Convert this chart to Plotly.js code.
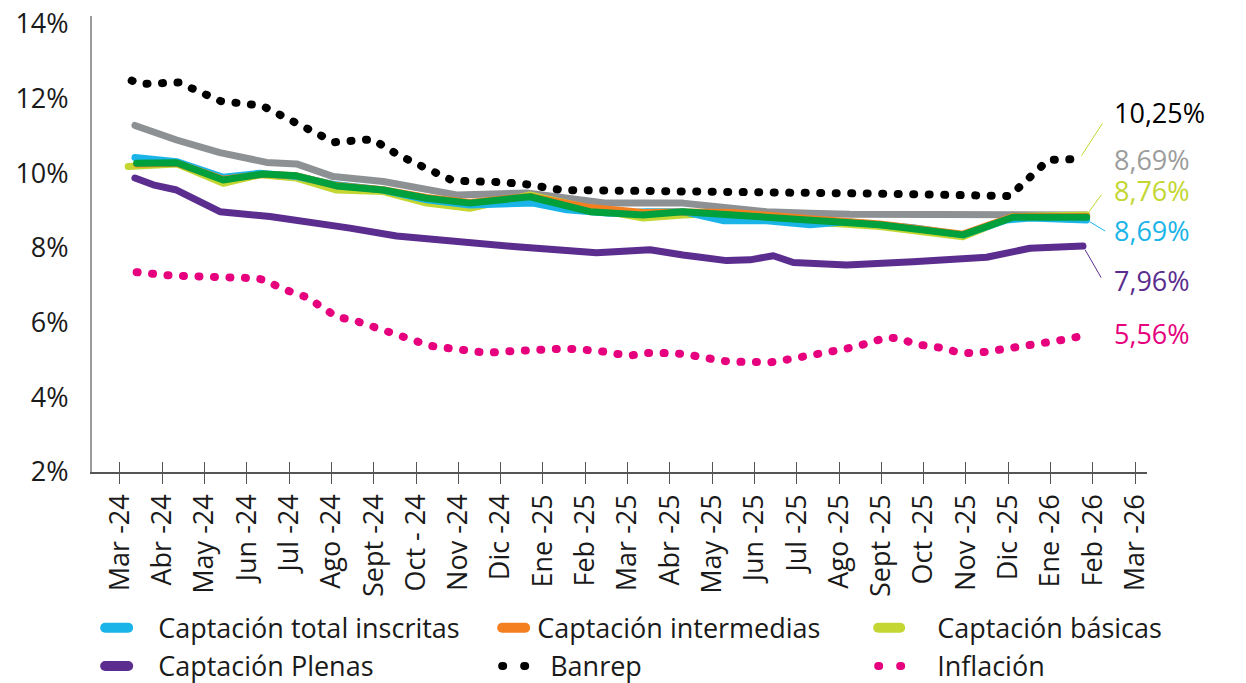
<!DOCTYPE html>
<html>
<head>
<meta charset="utf-8">
<script src="https://cdn.plot.ly/plotly-3.0.1.min.js"></script>
<style>
  html, body { margin: 0; padding: 0; background: #fff; }
  #chart { width: 1246px; height: 683px; }
</style>
</head>
<body>
<div id="chart"></div>
<script>
// ---------- DATA ----------
// x = months since Mar-24 (0 = Mar -24 tick), y = rate in %
const monthLabels = ['Mar -24','Abr -24','May -24','Jun -24','Jul -24','Ago -24','Sept -24','Oct - 24','Nov -24','Dic -24','Ene -25','Feb -25','Mar -25','Abr -25','May -25','Jun -25','Jul -25','Ago -25','Sept -25','Oct -25','Nov -25','Dic -25','Ene -26','Feb -26','Mar -26'];
const yTickVals = [2, 4, 6, 8, 10, 12, 14];
const yTickText = ['2%', '4%', '6%', '8%', '10%', '12%', '14%'];

const grayX = [0.355,1.340,2.364,3.468,4.177,5.043,6.225,7.251,7.960,9.615,10.402,11.506,13.310,14.106,15.288,16.312,17.258,22.853];
const grayY = [11.28,10.89,10.55,10.29,10.25,9.91,9.78,9.55,9.42,9.47,9.37,9.20,9.20,9.09,8.97,8.93,8.90,8.88];

const inscritasX = [0.355,1.340,2.442,3.310,4.177,5.123,6.225,7.251,8.274,9.764,10.560,11.584,12.451,13.310,14.255,15.288,16.312,17.180,18.747,19.929,20.962,21.513,22.853];
const inscritasY = [10.42,10.31,9.89,10.00,9.91,9.69,9.55,9.29,9.15,9.20,9.02,8.93,8.97,8.97,8.73,8.73,8.62,8.70,8.54,8.35,8.75,8.80,8.75];

const basicasX = [0.196,1.340,2.442,3.310,4.177,5.123,6.225,7.251,8.274,9.693,11.111,12.371,13.310,14.492,15.674,16.312,17.967,19.929,21.111,22.853];
const basicasY = [10.18,10.25,9.73,9.96,9.87,9.55,9.51,9.20,9.06,9.42,9.06,8.80,8.88,8.93,8.75,8.70,8.57,8.30,8.84,8.88];

const verdeX = [0.395,1.340,2.442,3.388,4.177,5.123,6.225,7.251,8.274,9.693,11.111,12.364,13.310,14.492,16.312,17.967,19.929,21.111,22.853];
const verdeY = [10.27,10.28,9.82,9.98,9.93,9.66,9.55,9.33,9.20,9.37,8.97,8.88,8.97,8.88,8.75,8.62,8.35,8.82,8.82];

const intermediasX = [0.395,1.340,2.442,3.388,4.177,5.123,6.225,7.251,8.274,9.693,11.111,12.364,13.310,14.492,16.312,17.967,19.929,21.111,22.853];
const intermediasY = [10.25,10.27,9.84,9.97,9.93,9.67,9.56,9.35,9.22,9.38,9.08,8.95,8.96,8.95,8.78,8.64,8.37,8.84,8.84];

const plenasX = [0.355,0.787,1.340,2.364,3.546,4.492,5.437,6.541,7.643,8.274,9.378,11.269,12.530,13.310,14.343,14.894,15.445,15.917,16.390,17.180,18.747,20.489,21.513,22.766];
const plenasY = [9.87,9.69,9.55,8.97,8.84,8.70,8.53,8.32,8.19,8.13,8.03,7.87,7.95,7.81,7.66,7.68,7.79,7.61,7.57,7.54,7.63,7.75,7.99,8.05];

const banrepX = [0.277,0.489,1.388,1.719,2.050,2.385,3.357,3.688,4.026,4.381,4.721,5.066,5.965,6.312,6.612,6.927,7.251,7.558,7.872,9.024,9.378,9.733,10.087,10.449,18.203,21.040,21.340,21.630,21.950,22.680];
const banrepY = [12.48,12.39,12.43,12.25,12.09,11.93,11.81,11.61,11.41,11.21,11.00,10.83,10.91,10.66,10.47,10.30,10.13,9.96,9.80,9.76,9.75,9.69,9.61,9.55,9.45,9.39,9.71,10.04,10.36,10.38];

const inflacionX = [0.395,0.733,1.104,1.466,1.828,2.192,2.513,2.861,3.199,3.468,3.735,4.073,4.421,4.775,5.137,5.539,5.965,6.305,6.643,6.998,7.329,7.667,8.007,8.345,8.683,9.024,9.378,9.733,10.087,10.449,10.804,11.166,11.482,11.766,12.087,12.388,12.759,13.144,13.539,13.917,14.279,14.657,15.035,15.390,15.721,16.076,16.423,16.768,17.123,17.470,17.818,18.125,18.440,18.778,19.125,19.449,19.787,20.135,20.489,20.868,21.236,21.591,21.946,22.300,22.648];
const inflacionY = [7.35,7.30,7.27,7.25,7.23,7.23,7.23,7.22,7.19,7.13,6.96,6.81,6.68,6.41,6.15,6.06,5.91,5.78,5.64,5.51,5.38,5.33,5.28,5.23,5.19,5.22,5.25,5.27,5.29,5.30,5.29,5.27,5.22,5.16,5.12,5.19,5.20,5.18,5.12,5.02,4.97,4.95,4.95,4.94,5.00,5.06,5.13,5.21,5.29,5.38,5.49,5.60,5.58,5.43,5.37,5.32,5.21,5.18,5.22,5.29,5.33,5.37,5.45,5.54,5.62];

const endLabels = ['10,25%', '8,69%', '8,76%', '8,69%', '7,96%', '5,56%'];

// ---------- STYLE ----------
const FONT = 'Open Sans, Liberation Sans, sans-serif';
const C = {
  gray: '#8e9193', cyan: '#1ab4e8', yg: '#c3d631', green: '#00a03c',
  orange: '#f47f20', purple: '#5b2d8e', black: '#000000', magenta: '#e6007e'
};
const LW = 7;
const DOT = '1px,14.5px';

function lineTrace(x, y, name, color, opts) {
  return Object.assign({
    type: 'scatter', mode: 'lines', x: x, y: y, name: name,
    line: { color: color, width: LW, shape: 'linear' },
    hoverinfo: 'skip'
  }, opts || {});
}

const traces = [
  lineTrace(grayX, grayY, 'Captación total', C.gray, { showlegend: false }),
  lineTrace(basicasX, basicasY, 'Captación básicas', C.yg, { legendrank: 3 }),
  lineTrace(inscritasX, inscritasY, 'Captación total inscritas', C.cyan, { legendrank: 1 }),
  lineTrace(intermediasX, intermediasY, 'Captación intermedias', C.orange, { legendrank: 2 }),
  lineTrace(verdeX, verdeY, 'Captación', C.green, { showlegend: false }),
  lineTrace(plenasX, plenasY, 'Captación Plenas', C.purple, { legendrank: 4 }),
  lineTrace(banrepX, banrepY, 'Banrep', C.black, { legendrank: 5, line: { color: C.black, width: 8, dash: DOT } }),
  lineTrace(inflacionX, inflacionY, 'Inflación', C.magenta, { legendrank: 6, line: { color: C.magenta, width: 8, dash: DOT } }),
  { type: 'scatter', mode: 'lines', x: [], y: [], xaxis: 'x2', yaxis: 'y', showlegend: false, hoverinfo: 'skip' }
];

function last(a) { return a[a.length - 1]; }

// label positions (layout)
const labelX = 23.45;
const labelYs = [11.62, 10.36, 9.55, 8.48, 7.12, 5.72];
const labelColors = [C.black, '#9c9c9c', C.yg, C.cyan, C.purple, C.magenta];

const annotations = endLabels.map((t, i) => ({
  x: labelX, y: labelYs[i], xref: 'x', yref: 'y', text: t, showarrow: false,
  xanchor: 'left', yanchor: 'middle',
  font: { family: FONT, size: 27, color: labelColors[i] }
}));

// leader lines
const leaders = [
  { x: last(banrepX), y: last(banrepY), ax: 24, ay: -37, color: C.yg },
  { x: last(basicasX), y: last(basicasY), ax: 16, ay: -22, color: C.yg },
  { x: last(inscritasX), y: last(inscritasY), ax: 20, ay: 12, color: C.cyan },
  { x: last(plenasX), y: last(plenasY), ax: 19, ay: 33, color: C.purple }
];
leaders.forEach(l => annotations.push({
  x: l.x, y: l.y, xref: 'x', yref: 'y', text: '', showarrow: true,
  arrowhead: 0, arrowwidth: 1, arrowcolor: l.color, ax: l.ax, ay: l.ay, standoff: 4
}));

const tickIdx = monthLabels.map((_, i) => i);
const xRange = [-0.66, 24.28];

const layout = {
  width: 1246, height: 683,
  margin: { l: 92, r: 99, t: 16, b: 211, autoexpand: false },
  paper_bgcolor: '#ffffff', plot_bgcolor: '#ffffff',
  font: { family: FONT, size: 27, color: '#1a1a1a' },
  showlegend: true,
  xaxis: {
    range: xRange, tickvals: tickIdx, ticktext: monthLabels, tickangle: -90,
    ticks: 'outside', ticklen: 10, tickwidth: 1, tickcolor: '#555',
    showline: true, linecolor: '#555', linewidth: 1.5,
    showgrid: false, zeroline: false, automargin: false,
    tickfont: { family: FONT, size: 27, color: '#1a1a1a' }
  },
  xaxis2: {
    overlaying: 'x', anchor: 'y', side: 'bottom', range: xRange, tickvals: tickIdx,
    ticks: 'inside', ticklen: 10, tickwidth: 1, tickcolor: '#555',
    showticklabels: false, showline: false, showgrid: false, zeroline: false
  },
  yaxis: {
    range: [2, 14.21], tickvals: yTickVals, ticktext: yTickText,
    ticks: '', showline: true, linecolor: '#9b9b9b', linewidth: 2,
    showgrid: false, zeroline: false, automargin: false, ticklabelstandoff: 16,
    tickfont: { family: FONT, size: 27, color: '#1a1a1a' }
  },
  legend: {
    orientation: 'h', x: 0.003, xanchor: 'left', y: -0.289, yanchor: 'top',
    entrywidth: 290, entrywidthmode: 'pixels', bgcolor: 'rgba(0,0,0,0)',
    font: { family: FONT, size: 27, color: '#1a1a1a' }, tracegroupgap: 0, itemwidth: 30
  },
  annotations: annotations
};

// legend item fine styling: swatch path and text offset per entry (within its 335px column)
const legendStyle = {
  'Captación total inscritas': { d: 'M10,0h23', tx: 63 },
  'Captación Plenas':          { d: 'M10,0h23', tx: 63 },
  'Captación intermedias':     { d: 'M72,0h23', tx: 107 },
  'Banrep':                    { d: 'M72,0h23', tx: 120, dots: true },
  'Captación básicas':         { d: 'M113,0h22', tx: 172 },
  'Inflación':                 { d: 'M113,0h23', tx: 172, dots: true }
};

function setAttrIf(el, a, v) { if (el.getAttribute(a) !== String(v)) el.setAttribute(a, v); }
function setStyleIf(el, prop, v) {
  const cur = el.style.getPropertyValue(prop);
  if (cur.replace(/\s/g, '') !== v.replace(/\s/g, '')) el.style.setProperty(prop, v);
}

function styleChart() {
  const root = document.getElementById('chart');
  root.querySelectorAll('.scatterlayer .trace path.js-line').forEach(p => {
    setStyleIf(p, 'stroke-linecap', 'round');
    setStyleIf(p, 'stroke-linejoin', 'round');
  });
  root.querySelectorAll('.scrollbox').forEach(s => { if (s.hasAttribute('clip-path')) s.removeAttribute('clip-path'); });
  root.querySelectorAll('text.legendtext').forEach(t => {
    const s = legendStyle[t.textContent.trim()];
    if (!s) return;
    setAttrIf(t, 'x', s.tx);
    const g = t.closest('g.traces') || t.parentNode;
    const p = g.querySelector('path.js-line');
    if (!p) return;
    setAttrIf(p, 'd', s.d);
    setStyleIf(p, 'stroke-linecap', 'round');
    if (s.dots) {
      setStyleIf(p, 'stroke-dasharray', '1px, 21px');
      setStyleIf(p, 'stroke-width', '8px');
    } else {
      setStyleIf(p, 'stroke-width', '10px');
    }
  });
}

const observer = new MutationObserver(() => styleChart());
observer.observe(document.getElementById('chart'), { subtree: true, childList: true, attributes: true });

Plotly.newPlot('chart', traces, layout, { displayModeBar: false, staticPlot: true }).then(gd => {
  styleChart();
  setTimeout(styleChart, 50);
  setTimeout(() => { styleChart(); observer.disconnect(); }, 3000);
});
</script>
</body>
</html>
